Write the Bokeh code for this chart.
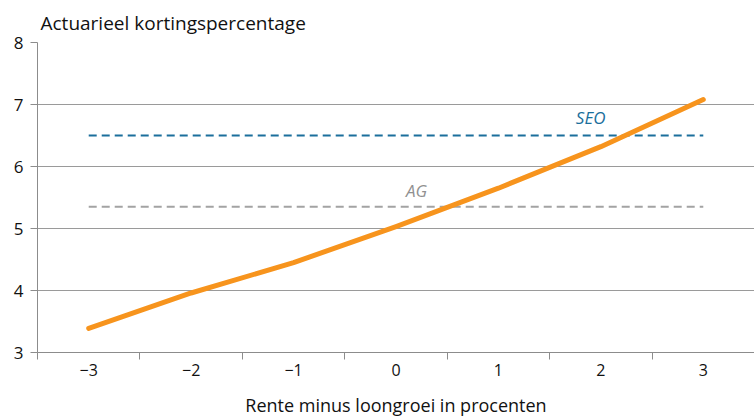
from bokeh.plotting import figure
from bokeh.models import FixedTicker, Label, Range1d
from bokeh.embed import file_html
from bokeh.resources import INLINE

# Data
rente_min_loongroei = [-3, -2, -1, 0, 1, 2, 3]
kortingspercentage = [3.39, 3.96, 4.45, 5.03, 5.65, 6.32, 7.08]
seo_niveau = 6.5
ag_niveau = 5.35
x_tick_labels = {-3: "\u22123", -2: "\u22122", -1: "\u22121", 0: "0", 1: "1", 2: "2", 3: "3"}
y_ticks = [3, 4, 5, 6, 7, 8]

FONT = "Open Sans"
ORANGE = "#F7941D"
BLUE = "#1B6F9C"
GREY = "#A3A3A3"
AXIS_GREY = "#8C8C8C"
TEXT = "#111111"

p = figure(width=754, height=419, output_backend="svg", toolbar_location=None,
           x_range=Range1d(-3.5, 3.5), y_range=Range1d(3, 8),
           min_border_left=37, min_border_right=0, min_border_top=42, min_border_bottom=67,
           title="Actuarieel kortingspercentage")
p.title.align = "left"
p.title.offset = 3
p.title.standoff = 13
p.title.text_font = FONT
p.title.text_font_size = "19px"
p.title.text_font_style = "normal"
p.title.text_color = TEXT

p.outline_line_color = None
p.xgrid.grid_line_color = None
p.ygrid.grid_line_color = "#9A9A9A"
p.ygrid.grid_line_width = 1
p.ygrid.ticker = FixedTicker(ticks=y_ticks)

# x axis
p.xaxis.ticker = FixedTicker(ticks=rente_min_loongroei,
                             minor_ticks=[-3.5, -2.5, -1.5, -0.5, 0.5, 1.5, 2.5, 3.5])
p.xaxis.major_label_overrides = x_tick_labels
p.xaxis.major_tick_out = 0
p.xaxis.major_tick_in = 0
p.xaxis.minor_tick_out = 7
p.xaxis.minor_tick_in = 0
p.xaxis.minor_tick_line_color = AXIS_GREY
p.xaxis.axis_line_color = AXIS_GREY
p.xaxis.major_label_standoff = 4
p.xaxis.major_label_text_font = FONT
p.xaxis.major_label_text_font_size = "16px"
p.xaxis.major_label_text_color = TEXT
p.xaxis.axis_label = "Rente minus loongroei in procenten"
p.xaxis.axis_label_text_font = FONT
p.xaxis.axis_label_text_font_size = "18px"
p.xaxis.axis_label_text_font_style = "normal"
p.xaxis.axis_label_text_color = TEXT
p.xaxis.axis_label_standoff = 14

# y axis
p.yaxis.ticker = FixedTicker(ticks=y_ticks)
p.yaxis.major_tick_out = 7
p.yaxis.major_tick_in = 0
p.yaxis.minor_tick_line_color = None
p.yaxis.major_tick_line_color = AXIS_GREY
p.yaxis.axis_line_color = AXIS_GREY
p.yaxis.major_label_standoff = 7
p.yaxis.major_label_text_font = FONT
p.yaxis.major_label_text_font_size = "17px"
p.yaxis.major_label_text_color = TEXT

# reference levels
p.line([rente_min_loongroei[0], rente_min_loongroei[-1]], [seo_niveau, seo_niveau],
       line_color=BLUE, line_width=2, line_dash="8 5")
p.line([rente_min_loongroei[0], rente_min_loongroei[-1]], [ag_niveau, ag_niveau],
       line_color=GREY, line_width=2, line_dash="8 5")

# main line
p.line(rente_min_loongroei, kortingspercentage, line_color=ORANGE, line_width=5,
       line_cap="round", line_join="round")

p.add_layout(Label(x=1.9, y=seo_niveau + 0.11, text="SEO", text_align="center",
                   text_font=FONT, text_font_size="17px", text_font_style="italic",
                   text_color=BLUE))
p.add_layout(Label(x=0.2, y=ag_niveau + 0.08, text="AG", text_align="center",
                   text_font=FONT, text_font_size="17px", text_font_style="italic",
                   text_color="#909090"))

html = file_html(p, INLINE)
html = html.replace("<head>", "<head><style>html,body{margin:0;padding:0;overflow:hidden}</style>", 1)
open("out.html", "w").write(html)
